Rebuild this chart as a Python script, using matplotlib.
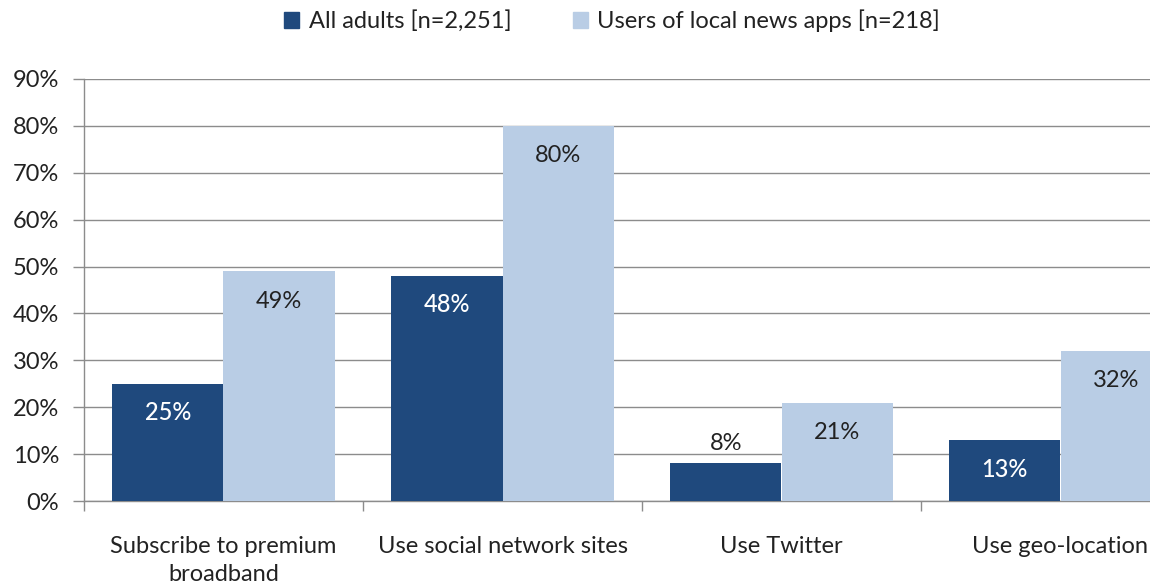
import matplotlib
matplotlib.use("Agg")
import matplotlib.pyplot as plt
import numpy as np
from matplotlib.patches import Patch

categories = ["Subscribe to premium\nbroadband", "Use social network sites", "Use Twitter", "Use geo-location"]
all_adults = [25, 48, 8, 13]
app_users = [49, 80, 21, 32]
series_names = ["All adults [n=2,251]", "Users of local news apps [n=218]"]
yticks = [0, 10, 20, 30, 40, 50, 60, 70, 80, 90]

dark = "#1F497D"
light = "#B9CDE5"
grid_c = "#8C8C8C"
txt = "#222222"
fs = 17

plt.rcParams['font.family'] = ['Lato', 'DejaVu Sans']

W, H = 1150, 586
fig = plt.figure(figsize=(W / 100, H / 100), dpi=100)
ax = fig.add_axes([84 / W, 85 / H, 1116 / W, 422 / H])

x = np.arange(len(categories)) + 0.5
bw = 0.4
b1 = ax.bar(x - bw / 2, all_adults, bw, color=dark, zorder=3)
b2 = ax.bar(x + bw / 2, app_users, bw, color=light, zorder=3)

ax.set_xlim(0, len(categories))
ax.set_ylim(0, 90)
ax.set_yticks(yticks)
ax.set_yticklabels([f"{v}%" for v in yticks], fontsize=fs, color=txt)
ax.yaxis.grid(True, color=grid_c, linewidth=1, zorder=0)
ax.set_axisbelow(True)

ax.set_xticks(np.arange(len(categories) + 1))
ax.set_xticklabels([])
ax.set_xticks(x, minor=True)
ax.set_xticklabels(categories, minor=True, fontsize=fs, color=txt, linespacing=1.45)
ax.tick_params(axis='x', which='minor', length=0, pad=25)
ax.tick_params(axis='x', which='major', length=7, color=grid_c, width=1)
ax.tick_params(axis='y', length=8, color=grid_c, width=1, pad=10)
for side in ["top", "right"]:
    ax.spines[side].set_visible(False)
for side in ["left", "bottom"]:
    ax.spines[side].set_color(grid_c)
    ax.spines[side].set_linewidth(1)

# value labels
for rect, v in zip(b1, all_adults):
    cx = rect.get_x() + rect.get_width() / 2
    if v < 10:
        ax.annotate(f"{v}%", (cx, v), xytext=(0, 20), textcoords="offset pixels",
                    ha="center", va="center", fontsize=fs, color=txt)
    else:
        ax.annotate(f"{v}%", (cx, v), xytext=(0, -29), textcoords="offset pixels",
                    ha="center", va="center", fontsize=fs, color="white", fontweight="medium")
for rect, v in zip(b2, app_users):
    cx = rect.get_x() + rect.get_width() / 2
    ax.annotate(f"{v}%", (cx, v), xytext=(0, -30), textcoords="offset pixels",
                ha="center", va="center", fontsize=fs, color=txt)

handles = [Patch(color=dark), Patch(color=light)]
fig.legend(handles, series_names, loc="center", bbox_to_anchor=(612 / W, 1 - 21 / H),
           ncol=2, frameon=False, fontsize=fs, handlelength=0.65, handleheight=0.65,
           handletextpad=0.4, columnspacing=2.6, labelcolor=txt)

fig.savefig("out.png", dpi=100)
